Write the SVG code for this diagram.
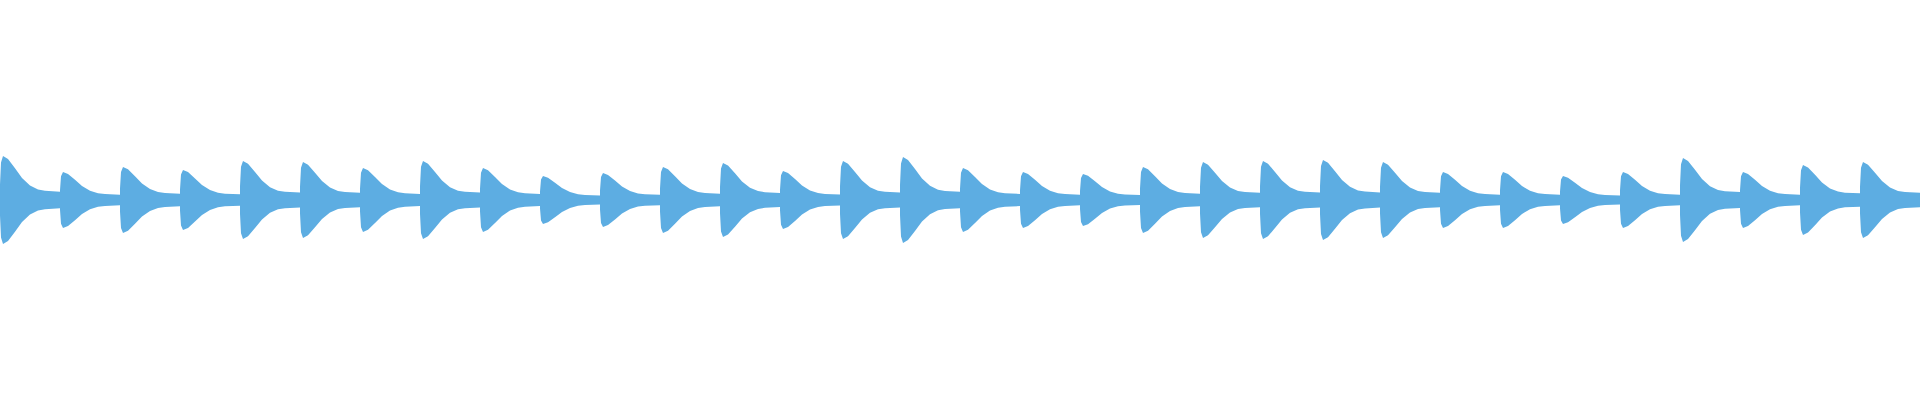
<svg xmlns="http://www.w3.org/2000/svg" width="1920" height="400" viewBox="0 0 1920 400">
<defs>
<style>.w{fill:#5DADE2}</style>
<path id="b" d="M0,-0.35 L1,-0.85 L3,-1 L8,-0.93 L15,-0.72 L22,-0.5 L30,-0.33 L38,-0.24 L45,-0.21 L60,-0.19 L60,0.19 L45,0.21 L38,0.24 L30,0.33 L22,0.5 L15,0.72 L8,0.93 L3,1 L1,0.85 L0,0.35 Z"/>
</defs>
<rect width="1920" height="400" fill="#fff"/>
<g class="w">
<use href="#b" transform="translate(0,200) scale(1,44)"/>
<use href="#b" transform="translate(60,200) scale(1,28)"/>
<use href="#b" transform="translate(120,200) scale(1,33)"/>
<use href="#b" transform="translate(180,200) scale(1,30)"/>
<use href="#b" transform="translate(240,200) scale(1,39)"/>
<use href="#b" transform="translate(300,200) scale(1,38)"/>
<use href="#b" transform="translate(360,200) scale(1,32)"/>
<use href="#b" transform="translate(420,200) scale(1,39)"/>
<use href="#b" transform="translate(480,200) scale(1,32)"/>
<use href="#b" transform="translate(540,200) scale(1,24)"/>
<use href="#b" transform="translate(600,200) scale(1,27)"/>
<use href="#b" transform="translate(660,200) scale(1,33)"/>
<use href="#b" transform="translate(720,200) scale(1,37)"/>
<use href="#b" transform="translate(780,200) scale(1,29)"/>
<use href="#b" transform="translate(840,200) scale(1,39)"/>
<use href="#b" transform="translate(900,200) scale(1,43)"/>
<use href="#b" transform="translate(960,200) scale(1,32)"/>
<use href="#b" transform="translate(1020,200) scale(1,28)"/>
<use href="#b" transform="translate(1080,200) scale(1,26)"/>
<use href="#b" transform="translate(1140,200) scale(1,33)"/>
<use href="#b" transform="translate(1200,200) scale(1,38)"/>
<use href="#b" transform="translate(1260,200) scale(1,39)"/>
<use href="#b" transform="translate(1320,200) scale(1,40)"/>
<use href="#b" transform="translate(1380,200) scale(1,38)"/>
<use href="#b" transform="translate(1440,200) scale(1,28)"/>
<use href="#b" transform="translate(1500,200) scale(1,28)"/>
<use href="#b" transform="translate(1560,200) scale(1,24)"/>
<use href="#b" transform="translate(1620,200) scale(1,28)"/>
<use href="#b" transform="translate(1680,200) scale(1,42)"/>
<use href="#b" transform="translate(1740,200) scale(1,28)"/>
<use href="#b" transform="translate(1800,200) scale(1,35)"/>
<use href="#b" transform="translate(1860,200) scale(1,38)"/>
</g>
</svg>
